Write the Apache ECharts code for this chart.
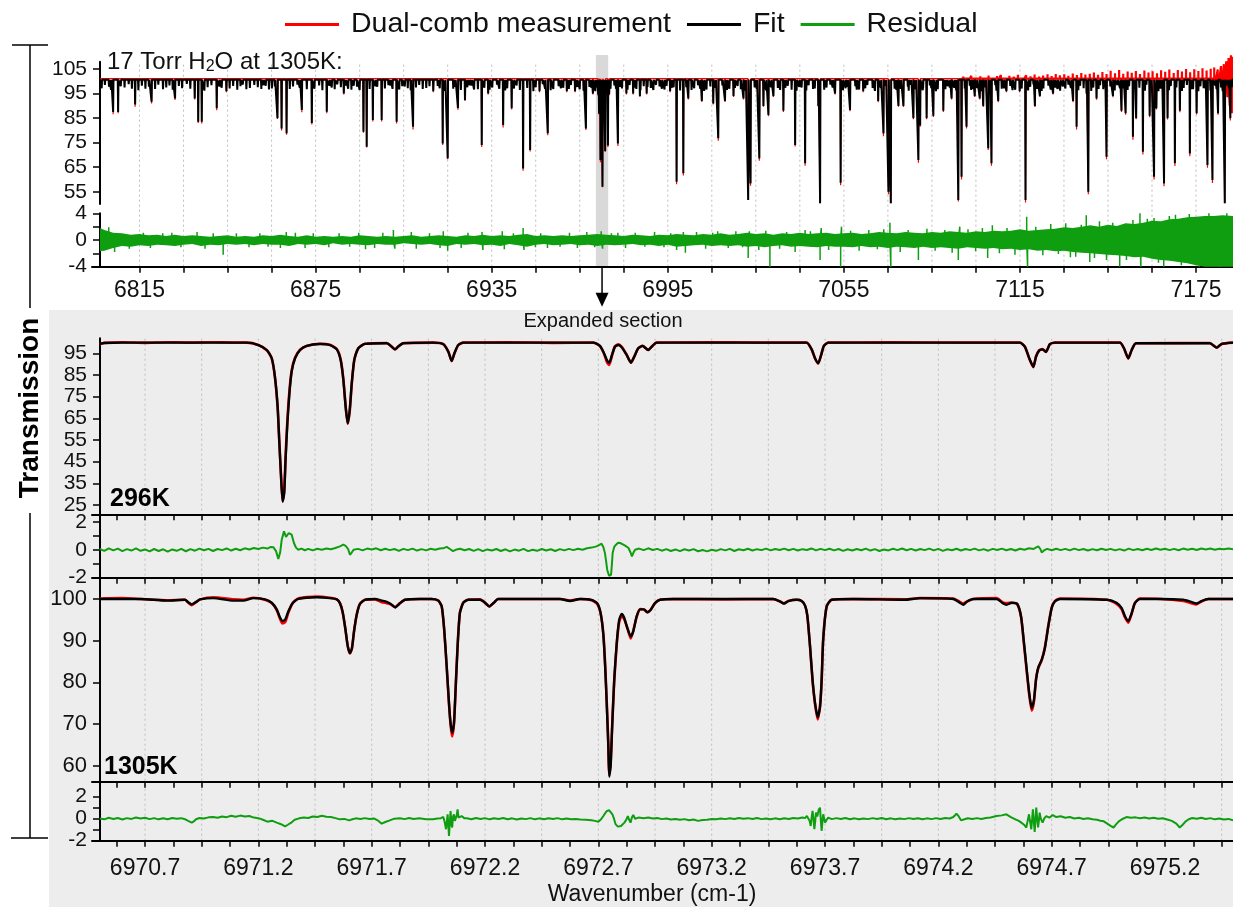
<!DOCTYPE html>
<html>
<head>
<meta charset="utf-8">
<script src="https://cdn.jsdelivr.net/npm/echarts@6/dist/echarts.min.js"></script>
<style>
html,body{margin:0;padding:0;background:#ffffff;}
#chart{width:1233px;height:907px;}
</style>
</head>
<body>
<div id="chart"></div>
<script>
// ---------- Overview (6801.5 - 7187.6 cm-1), 17 Torr H2O at 1305 K ----------
// strong absorption lines: [wavenumber, fit minimum %, measured minimum %]
const overviewLines = [
[6806.0,87.5,86.6],[6807.7,87.5,87.0],[6813.5,90.6,89.6],[6819.1,91.7,91.0],[6827.1,93.0,92.4],[6833.8,93.0,92.6],
[6835.0,83.5,83.0],[6836.2,83.5,82.8],[6841.3,89.0,88.2],[6844.6,96.0,95.6],[6862.0,85.0,84.6],[6863.4,80.8,80.0],
[6865.1,78.8,78.2],[6870.3,88.3,87.4],[6873.7,83.0,82.4],[6878.8,87.6,87.0],[6884.6,95.0,94.6],[6891.3,79.5,79.0],
[6892.4,73.3,73.0],[6894.5,84.2,83.6],[6897.5,84.2,83.6],[6902.6,83.5,82.8],[6908.2,81.5,80.4],[6915.1,96.0,95.6],
[6918.3,74.7,74.0],[6920.0,68.6,68.2],[6923.5,89.1,88.4],[6925.9,92.4,92.0],[6931.6,74.0,73.2],[6933.8,95.0,94.6],
[6938.9,82.2,81.2],[6941.8,89.0,88.5],[6945.7,64.5,63.6],[6948.1,72.0,71.4],[6951.3,96.0,95.6],[6954.1,78.8,78.0],
[6960.6,96.0,95.6],[6963.4,96.0,95.6],[6967.1,80.8,80.2],[6969.5,95.0,94.6],
[6971.3,94.6,94.1],[6971.6,86.8,86.5],[6972.05,67.9,67.0],[6972.75,57.0,56.8],[6972.85,91.0,90.5],[6973.67,71.6,71.2],
[6974.61,73.8,73.2],[6975.04,94.7,94.3],
[6978.0,74.7,73.6],[6980.9,95.0,94.6],[6983.2,95.0,94.6],[6985.5,94.0,93.6],[6987.8,95.0,94.6],[6995.8,96.0,95.6],
[6998.0,59.1,58.0],[7000.3,62.5,61.6],[7002.0,93.0,92.6],[7006.6,92.0,91.6],[7010.5,91.0,90.6],[7012.2,76.8,75.8],
[7014.5,92.0,91.6],[7017.4,94.0,93.6],[7020.8,93.0,92.6],[7022.4,51.6,51.6],[7023.2,58.4,57.4],[7026.2,68.6,67.6],
[7027.6,90.0,89.6],[7029.3,86.3,85.8],[7031.0,94.0,93.6],[7034.4,88.0,87.5],[7038.4,74.0,73.4],[7041.8,66.6,65.6],
[7046.3,90.0,89.6],[7046.9,50.3,50.3],[7052.0,95.0,94.6],[7053.9,58.7,57.6],[7057.1,88.3,87.8],[7061.6,96.0,95.6],
[7066.7,92.0,91.5],[7068.5,78.8,77.6],[7070.2,55.0,54.0],[7071.0,50.3,50.3],[7073.6,90.0,89.6],[7075.3,90.0,89.5],
[7078.7,85.0,84.5],[7080.4,67.9,66.8],[7081.0,82.0,81.5],[7083.2,85.0,84.5],[7085.5,86.0,85.5],[7088.9,88.0,87.5],
[7091.7,93.0,92.6],[7094.0,51.6,51.0],[7095.1,61.1,60.0],[7096.8,81.5,80.8],[7099.6,94.0,93.6],[7101.3,93.0,92.6],
[7102.5,90.0,89.5],[7104.2,72.7,72.0],[7105.3,66.6,65.6],[7107.6,92.0,91.5],[7110.4,96.0,95.6],[7114.9,96.0,95.6],
[7116.9,51.6,50.6],[7120.1,90.0,89.5],[7121.8,94.0,93.6],[7126.3,95.0,94.6],[7133.1,92.0,91.5],[7134.3,81.5,80.4],
[7137.7,95.0,94.5],[7138.3,55.0,54.0],[7141.1,93.0,92.5],[7144.5,69.3,68.2],[7146.7,94.0,93.5],[7149.6,88.0,87.5],
[7151.0,87.0,86.4],[7153.5,77.4,76.2],[7154.6,85.0,84.5],[7156.9,71.3,70.2],[7159.2,86.0,85.4],[7160.7,61.1,60.0],
[7161.5,89.0,88.5],[7164.1,58.4,57.2],[7165.3,85.0,84.4],[7167.8,66.6,65.5],[7169.5,88.0,87.4],[7172.9,70.6,69.5],
[7175.2,87.0,86.5],[7178.9,65.9,64.8],[7180.6,59.8,58.6],[7182.5,87.0,86.4],[7184.8,50.3,50.3],[7186.7,85.0,84.0]
];
// weak lines forming the dense band just below the baseline: [wavenumber, fit minimum %]
const overviewWeakLines = [
[6802.1,97.2],[6803.2,98.5],[6804.6,97.8],[6805.3,96.5],[6808.6,98.0],[6809.9,97.5],[6811.3,98.8],[6812.4,97.0],
[6814.6,96.4],[6815.8,98.2],[6817.0,97.0],[6818.2,97.8],[6820.3,96.9],[6821.4,98.6],[6823.0,96.8],[6824.1,97.5],
[6825.2,98.3],[6826.3,96.6],[6828.4,98.1],[6829.5,97.2],[6831.1,98.9],[6832.3,97.0],[6837.1,96.2],[6838.2,97.6],
[6839.5,98.4],[6842.2,97.9],[6843.0,97.4],[6845.7,97.1],[6846.9,98.1],[6848.3,96.6],[6849.4,98.0],[6850.2,98.7],
[6851.4,96.8],[6852.6,97.3],[6854.1,98.5],[6855.3,97.6],[6856.5,96.9],[6857.2,98.4],[6858.0,98.2],[6859.1,96.7],
[6860.1,97.1],[6861.1,97.9],[6866.2,96.9],[6867.3,97.9],[6868.8,98.6],[6869.6,97.4],[6872.0,96.8],[6874.6,97.0],
[6876.2,98.3],[6877.3,96.4],[6879.7,98.2],[6880.5,97.5],[6881.5,96.8],[6882.4,98.8],[6883.6,97.6],[6885.3,98.3],
[6886.1,97.0],[6887.2,96.6],[6888.0,98.2],[6889.1,97.8],[6890.0,96.5],[6893.4,96.9],[6895.4,98.0],[6896.0,97.8],
[6898.6,97.1],[6899.8,98.4],[6900.5,98.3],[6901.2,96.9],[6903.5,96.7],[6904.5,98.0],[6905.4,97.9],[6906.4,97.2],
[6907.4,96.4],[6909.2,97.5],[6910.3,98.5],[6911.5,96.9],[6912.7,97.3],[6913.8,98.0],[6916.6,98.1],[6917.3,97.2],
[6919.1,96.1],[6921.9,97.0],[6922.6,97.8],[6924.5,96.5],[6926.7,97.6],[6927.5,98.4],[6928.2,98.3],[6929.0,96.7],
[6930.3,96.8],[6932.5,97.4],[6934.3,96.6],[6935.2,97.5],[6936.8,98.6],[6937.6,97.0],[6939.6,96.3],[6940.3,97.2],
[6942.6,97.1],[6943.5,98.3],[6944.6,96.5],[6947.1,97.3],[6949.2,96.0],[6950.0,97.6],[6952.4,98.8],[6953.2,97.0],
[6955.1,96.4],[6956.0,96.9],[6957.8,98.0],[6958.6,97.2],[6959.4,97.4],[6961.3,96.9],[6962.0,98.5],[6964.1,97.7],
[6965.0,96.8],[6966.3,96.2],[6968.3,97.7],[6969.0,97.4],[6970.3,96.0],[6970.9,97.5],[6971.9,95.8],[6972.4,96.5],
[6973.2,95.9],[6973.9,96.8],[6974.3,95.5],[6975.1,96.6],[6975.5,97.0],[6976.8,98.3],[6977.4,96.9],[6978.8,97.8],
[6979.4,97.1],[6981.3,96.6],[6982.0,98.5],[6983.8,97.5],[6984.3,96.9],[6985.7,96.4],[6986.8,98.0],[6988.1,97.7],
[6989.2,97.3],[6990.1,96.5],[6991.0,98.6],[6992.2,97.9],[6993.0,97.0],[6993.9,96.7],[6994.6,98.2],[6996.4,97.4],
[6997.0,97.6],[6999.2,96.3],[7001.3,97.6],[7003.1,96.5],[7004.0,97.2],[7005.3,98.4],[7006.1,97.0],[7007.4,96.1],
[7008.2,96.7],[7009.5,97.9],[7011.3,97.4],[7013.6,98.3],[7015.2,96.5],[7016.0,97.0],[7017.9,97.3],[7018.8,98.1],
[7019.9,96.8],[7021.5,96.2],[7024.6,97.5],[7025.3,97.0],[7028.5,96.4],[7030.2,97.6],[7032.5,97.3],[7033.3,96.5],
[7035.1,97.4],[7035.9,98.2],[7037.2,96.6],[7038.9,96.2],[7039.8,97.7],[7040.6,97.5],[7042.2,96.3],[7043.0,98.4],
[7044.5,96.9],[7045.1,97.1],[7048.3,96.6],[7049.1,97.5],[7050.4,98.6],[7051.2,97.5],[7054.7,96.4],[7055.6,97.2],
[7056.3,97.8],[7058.9,98.0],[7059.4,96.6],[7060.2,96.7],[7062.3,97.2],[7063.0,98.5],[7064.8,97.3],[7065.6,96.1],
[7067.6,97.3],[7069.3,98.2],[7072.3,97.0],[7072.9,96.5],[7074.4,97.0],[7076.8,97.8],[7077.1,96.2],[7077.9,98.7],
[7079.5,96.9],[7081.9,96.4],[7082.0,97.2],[7084.3,98.3],[7084.8,97.2],[7086.4,96.0],[7087.0,96.8],[7089.6,96.8],
[7090.2,98.0],[7091.1,97.5],[7092.6,97.4],[7093.3,96.3],[7096.2,97.1],[7097.9,98.2],[7098.4,96.5],[7099.0,96.9],
[7100.4,97.3],[7102.0,96.0],[7103.3,97.6],[7104.8,96.8],[7106.6,98.4],[7107.0,96.2],[7108.8,97.0],[7109.6,97.2],
[7111.7,98.1],[7112.5,96.4],[7113.4,96.6],[7115.6,97.1],[7117.8,96.3],[7118.5,97.8],[7119.6,98.7],[7120.9,97.0],
[7122.4,96.1],[7123.0,97.1],[7124.7,98.2],[7125.5,96.7],[7127.0,97.5],[7127.8,96.9],[7128.7,96.2],[7129.6,97.9],
[7130.5,97.1],[7131.5,98.6],[7132.4,97.3],[7134.9,96.4],[7135.5,98.2],[7136.7,97.2],[7139.3,96.1],[7140.0,97.5],
[7141.8,96.9],[7142.3,98.4],[7143.4,96.8],[7144.0,97.6],[7145.8,97.9],[7147.3,96.3],[7148.2,98.5],[7149.1,97.2],
[7150.3,97.2],[7151.7,96.5],[7152.2,98.0],[7154.1,97.0],[7155.7,97.4],[7157.6,96.2],[7158.1,98.6],[7159.8,97.4],
[7162.2,96.0],[7162.7,97.0],[7163.4,97.1],[7165.8,96.4],[7166.4,98.1],[7168.3,97.5],[7170.2,96.1],[7170.8,97.3],
[7171.9,98.5],[7173.4,96.8],[7174.0,96.8],[7175.8,96.0],[7176.5,98.0],[7177.6,97.2],[7178.2,97.1],[7179.9,96.3],
[7181.5,98.3],[7182.0,96.8],[7183.5,97.5],[7184.1,96.0],[7185.7,98.4],[7186.2,97.2],[7187.2,97.6]
];
const overviewRange = [6801.5, 7187.6];
const overviewFitBaseline = 100.6;
const overviewMeasBaseline = 101.1;
// noisy measured baseline at the high-wavenumber end: [wavenumber, %]
const overviewMeasTail = [
[7095.0,101.3],[7095.7,102.0],[7096.5,101.0],[7097.1,101.6],[7097.9,101.2],[7098.4,102.3],[7099.2,101.4],[7100.0,101.8],
[7100.6,100.9],[7101.5,102.1],[7102.1,101.5],[7102.8,101.9],[7103.6,101.1],[7104.3,102.4],[7105.0,101.3],[7105.8,101.7],
[7106.4,101.0],[7107.2,102.2],[7107.9,101.6],[7108.5,102.6],[7109.3,101.2],[7110.0,101.9],[7110.7,101.4],[7111.4,102.3],
[7112.2,101.0],[7112.9,102.0],[7113.5,101.5],[7114.3,102.7],[7115.0,101.3],[7115.8,101.8],[7116.5,101.1],[7117.1,102.5],
[7117.9,101.6],[7118.6,102.1],[7119.3,101.2],[7120.0,102.8],[7120.8,101.4],[7121.5,102.0],[7122.2,101.1],[7122.9,102.4],
[7123.7,101.7],[7124.4,102.9],[7125.0,101.3],[7125.8,102.2],[7126.5,101.5],[7127.2,103.0],[7127.9,101.2],[7128.6,102.5],
[7129.4,101.8],[7130.1,102.9],[7130.8,101.3],[7131.5,102.3],[7132.3,101.6],[7133.0,103.2],[7133.7,101.4],[7134.4,102.6],
[7135.2,101.9],[7135.9,103.4],[7136.6,101.2],[7137.3,102.8],[7138.0,101.5],[7138.8,103.1],[7139.5,101.8],[7140.2,103.6],
[7140.9,101.3],[7141.6,102.7],[7142.3,101.6],[7143.1,103.8],[7143.8,101.4],[7144.5,103.0],[7145.2,101.7],[7145.9,104.3],
[7146.6,101.2],[7147.4,103.3],[7148.1,101.9],[7148.8,104.6],[7149.5,101.5],[7150.2,103.1],[7150.9,101.3],[7151.7,104.0],
[7152.4,101.8],[7153.1,103.5],[7153.8,101.1],[7154.5,104.2],[7155.2,101.6],[7155.9,103.0],[7156.7,101.3],[7157.4,104.4],
[7158.1,101.9],[7158.8,103.6],[7159.5,101.2],[7160.2,104.1],[7160.9,101.5],[7161.7,103.3],[7162.4,101.0],[7163.1,104.5],
[7163.8,101.7],[7164.5,103.9],[7165.2,101.3],[7165.9,104.8],[7166.6,101.6],[7167.4,103.4],[7168.1,100.9],[7168.8,104.6],
[7169.5,101.8],[7170.2,104.0],[7170.9,101.2],[7171.6,105.0],[7172.3,101.5],[7173.0,103.7],[7173.7,100.8],[7174.4,104.9],
[7175.1,101.4],[7175.8,104.2],[7176.5,101.0],[7177.2,105.3],[7177.9,101.7],[7178.6,104.4],[7179.3,100.6],[7180.0,105.1],
[7180.6,101.2],[7181.2,105.6],[7181.8,100.2],[7182.4,104.8],[7183.0,99.6],[7183.5,106.2],[7184.0,98.4],[7184.5,107.0],
[7184.9,96.0],[7185.3,108.2],[7185.7,93.5],[7186.1,109.5],[7186.5,90.0],[7186.9,110.6],[7187.2,87.0],[7187.6,110.0]
];
// residual envelope: [wavenumber, upper %, lower %]
const overviewResidualEnvelope = [
[6801.5,1.8,-1.7],[6803,1.5,-1.6],[6806,1.1,-1.2],[6809,1.0,-0.9],[6812,0.8,-1.0],[6815,0.9,-0.8],[6818,0.7,-0.9],
[6821,0.8,-0.7],[6824,0.6,-0.8],[6827,0.8,-0.9],[6830,0.6,-0.7],[6833,0.7,-0.6],[6836,0.6,-0.9],[6839,0.5,-0.7],
[6842,0.6,-0.8],[6845,0.7,-0.6],[6848,0.5,-0.7],[6851,0.6,-0.6],[6854,0.5,-0.8],[6857,0.7,-0.6],[6860,0.6,-0.7],
[6863,0.8,-0.7],[6866,0.6,-0.9],[6869,0.5,-0.6],[6872,0.7,-0.7],[6875,0.5,-0.6],[6878,0.6,-0.8],[6881,0.5,-0.5],
[6884,0.6,-0.7],[6887,0.5,-0.6],[6890,0.7,-0.7],[6893,0.6,-0.8],[6896,0.5,-0.6],[6899,0.6,-0.7],[6902,0.5,-0.7],
[6905,0.6,-0.5],[6908,0.7,-0.6],[6911,0.5,-0.7],[6914,0.6,-0.6],[6917,0.7,-0.8],[6920,0.6,-0.9],[6923,0.5,-0.6],
[6926,0.7,-0.7],[6929,0.6,-0.6],[6932,0.8,-0.8],[6935,0.6,-0.7],[6938,0.7,-0.9],[6941,0.6,-0.6],[6944,0.8,-0.8],
[6947,0.9,-1.0],[6950,0.6,-0.7],[6953,0.7,-0.6],[6956,0.6,-0.8],[6959,0.7,-0.7],[6962,0.6,-0.6],[6965,0.7,-0.8],
[6968,0.8,-0.7],[6971,0.9,-0.9],[6974,0.8,-0.7],[6977,0.7,-0.8],[6980,0.6,-0.7],[6983,0.8,-0.6],[6986,0.7,-0.8],
[6989,0.6,-0.7],[6992,0.8,-0.9],[6995,0.7,-0.7],[6998,0.9,-1.0],[7001,0.8,-0.9],[7004,0.7,-0.8],[7007,0.9,-0.7],
[7010,0.8,-0.9],[7013,1.0,-0.8],[7016,0.8,-0.9],[7019,0.9,-0.8],[7022,1.1,-1.0],[7025,0.9,-0.9],[7028,1.0,-1.1],
[7031,0.8,-0.9],[7034,1.0,-0.8],[7037,0.9,-1.0],[7040,1.1,-0.9],[7043,0.9,-1.0],[7046,1.0,-1.1],[7049,1.1,-0.9],
[7052,0.9,-1.0],[7055,1.0,-1.0],[7058,1.1,-1.1],[7061,0.9,-0.9],[7064,1.0,-1.1],[7067,1.2,-1.0],[7070,1.1,-1.2],
[7073,1.0,-1.0],[7076,1.2,-1.1],[7079,1.1,-1.2],[7082,1.0,-1.0],[7085,1.2,-1.2],[7088,1.1,-1.1],[7091,1.3,-1.2],
[7094,1.2,-1.3],[7097,1.1,-1.1],[7100,1.3,-1.2],[7103,1.2,-1.3],[7106,1.4,-1.2],[7109,1.3,-1.4],[7112,1.4,-1.3],
[7115,1.6,-1.5],[7118,1.4,-1.4],[7121,1.5,-1.6],[7124,1.6,-1.5],[7127,1.7,-1.7],[7130,1.9,-1.6],[7133,1.8,-1.8],
[7136,2.0,-1.9],[7139,2.2,-2.0],[7142,2.0,-2.1],[7145,2.3,-2.2],[7148,2.1,-2.3],[7151,2.5,-2.4],[7154,2.4,-2.6],
[7157,2.6,-2.5],[7160,2.9,-2.8],[7163,2.8,-3.0],[7166,3.1,-3.1],[7169,3.2,-3.3],[7172,3.4,-3.5],[7175,3.5,-3.8],
[7178,3.6,-4.0],[7181,3.6,-4.0],[7184,3.7,-4.0],[7187.6,3.6,-4.0]
];
// isolated residual excursions: [wavenumber, %]
const overviewResidualSpikes = [
[6804.5,1.9],[6806.5,-1.8],[6811.5,-1.3],[6816.3,1.1],[6818.7,-1.2],[6822.9,1.0],[6826,1.1],[6829.1,-1.1],[6834.6,1.2],
[6837.3,-1.3],[6840.1,1.0],[6843.5,-2.2],[6848,1.0],[6852.3,-1.1],[6856.0,1.0],[6858.8,-1.0],[6863,-1.2],[6865,1.2],
[6868.1,1.1],[6871.4,-1.2],[6874.2,1.0],[6879.5,-1.1],[6883.0,1.0],[6886.6,-1.0],[6889.7,1.1],[6892,-1.4],[6895.1,-1.2],
[6897.9,1.1],[6901.5,1.5],[6902,-1.3],[6907.6,1.2],[6909.3,-1.3],[6913.8,1.0],[6917.4,-1.2],[6918.5,1.3],[6920,-1.6],
[6924.6,-1.2],[6926.9,1.1],[6931.7,1.2],[6932,-1.5],[6938.6,1.3],[6939.3,-1.4],[6942.4,1.0],[6945.7,1.8],[6946,-1.5],
[6949.9,-1.1],[6951.7,1.0],[6954,-1.2],[6958.3,-1.0],[6961.5,1.1],[6964.2,-1.2],[6967.4,1.2],[6970.1,-1.1],[6972.3,1.3],
[6972.8,-1.3],[6975.8,1.0],[6978,1.1],[6980.6,-1.2],[6983.9,1.1],[6987.2,-1.0],[6990.5,1.2],[6993.7,-1.1],[6996.0,1.0],
[6998,-1.5],[7000.3,1.2],[7001,-1.9],[7004.8,1.2],[7007.9,-1.3],[7010.3,1.1],[7012,1.3],[7015.6,-1.2],[7018.2,1.3],
[7020.5,-1.1],[7022.4,-2.7],[7022.8,1.3],[7026,-1.5],[7028.4,1.4],[7029.8,-4.0],[7033.1,-1.3],[7035.5,1.2],[7038.4,-1.8],
[7041.8,1.5],[7043.6,1.3],[7046.9,-3.0],[7047.3,1.8],[7049.8,-1.5],[7053.9,-4.0],[7054.2,2.0],[7057.3,1.4],[7060.2,-1.6],
[7063.5,1.5],[7066.4,-1.4],[7068.6,1.6],[7070.7,2.6],[7071,-4.0],[7074.2,-1.8],[7076.9,1.5],[7080.4,-3.0],[7083.3,1.7],
[7086.1,-1.6],[7089.4,1.5],[7091.9,-1.9],[7094,-3.0],[7094.5,2.0],[7097.3,1.6],[7099.9,-1.7],[7102.2,1.8],[7104,-2.7],
[7105.6,2.2],[7108.0,-2.0],[7110.6,1.8],[7113.3,-2.2],[7117.3,3.5],[7117.6,-4.0],[7120.4,2.0],[7122.8,-2.3],[7125.5,2.4],
[7128.1,-2.1],[7130.6,2.5],[7132.2,-2.6],[7134,-2.5],[7135.9,2.3],[7137.6,3.7],[7138.8,-3.3],[7140.4,-2.7],[7142.1,2.8],
[7144.5,-3.0],[7146.6,2.6],[7149,-4.0],[7151.3,-3.0],[7153.5,3.0],[7155.9,4.0],[7156.2,-4.0],[7158.4,3.2],[7160.7,3.3],
[7162.2,-3.4],[7164,-4.0],[7165.9,3.6],[7168,3.8],[7170.0,-3.8],[7172.7,3.9],[7176.1,-4.0],[7179.4,4.0],[7183.1,-4.0],
[7185.5,4.0]
];
const expandedSection = [6970.5, 6974.7];

// ---------- Expanded section (6970.47 - 6975.5 cm-1) ----------
// 296 K: [wavenumber, fit %, measured %]
const spec296 = [
[6970.500,99.3,99.2],[6970.520,99.7,99.8],[6970.600,99.9,100.1],[6970.700,99.9,99.8],[6970.800,99.9,100.1],
[6970.900,99.9,99.9],[6971.000,99.9,100.1],[6971.100,99.9,99.9],[6971.148,99.9,99.9],[6971.200,98.8,98.8],
[6971.237,96.5,96.4],[6971.259,92.7,92.6],[6971.273,84.2,84.0],[6971.285,70.4,70.0],[6971.292,55.0,55.0],
[6971.300,38.1,38.5],[6971.307,26.5,26.8],[6971.314,30.4,31.5],[6971.320,45.8,47.5],[6971.328,62.7,64.0],
[6971.337,76.5,77.5],[6971.347,86.5,87.2],[6971.362,92.7,93.0],[6971.384,96.5,96.6],[6971.413,98.4,98.4],
[6971.472,99.3,99.4],[6971.516,98.8,98.9],[6971.546,96.8,97.0],[6971.563,91.9,92.2],[6971.575,82.7,83.0],
[6971.585,70.4,70.5],[6971.594,62.7,62.5],[6971.603,68.8,68.2],[6971.612,81.2,80.8],[6971.623,91.9,91.7],
[6971.641,97.3,97.3],[6971.670,99.3,99.4],[6971.766,99.6,99.7],[6971.788,98.1,98.0],[6971.803,96.8,96.7],
[6971.817,98.1,98.1],[6971.839,99.6,99.6],[6971.972,99.9,99.9],[6972.016,99.2,99.2],[6972.038,95.7,95.8],
[6972.053,91.4,91.4],[6972.065,95.0,95.0],[6972.082,98.8,98.8],[6972.104,99.9,99.9],[6972.300,99.9,100.1],
[6972.500,99.9,99.8],[6972.678,99.9,99.9],[6972.707,98.4,98.3],[6972.725,95.0,94.8],[6972.739,91.6,90.6],
[6972.748,90.7,89.6],[6972.760,94.2,93.8],[6972.773,98.0,98.2],[6972.788,98.8,99.1],[6972.803,97.8,98.0],
[6972.825,94.2,94.3],[6972.844,90.7,90.6],[6972.858,93.4,93.3],[6972.876,97.3,97.3],[6972.895,98.4,98.4],
[6972.920,96.5,96.5],[6972.935,98.0,98.0],[6972.957,99.9,99.9],[6973.200,99.9,100.1],[6973.400,99.9,99.9],
[6973.619,99.9,99.9],[6973.641,96.8,96.8],[6973.656,92.7,92.6],[6973.670,90.4,90.3],[6973.685,95.0,95.0],
[6973.695,98.4,98.4],[6973.714,99.9,99.9],[6974.000,99.9,100.0],[6974.300,99.9,99.9],[6974.560,99.9,99.9],
[6974.582,98.0,98.0],[6974.601,92.7,92.6],[6974.619,88.8,88.6],[6974.631,93.4,93.6],[6974.645,96.2,96.4],
[6974.660,96.8,96.9],[6974.675,95.7,95.6],[6974.692,99.2,99.2],[6974.714,99.9,99.9],[6975.001,99.9,99.9],
[6975.019,97.3,97.3],[6975.038,92.7,92.6],[6975.053,96.5,96.5],[6975.072,99.6,99.6],[6975.398,99.6,99.7],
[6975.428,97.6,97.6],[6975.450,99.3,99.3],[6975.500,99.9,99.9]
];
// 296 K residual: [wavenumber, %]
const res296 = [
[6970.500,0.05],[6970.520,-0.08],[6970.540,0.10],[6970.560,-0.05],[6970.580,0.08],[6970.600,-0.10],[6970.620,0.04],
[6970.640,-0.06],[6970.660,0.09],[6970.680,-0.08],[6970.700,0.02],[6970.720,-0.12],[6970.740,0.05],[6970.760,-0.09],
[6970.780,0.03],[6970.800,-0.14],[6970.820,0.02],[6970.840,-0.08],[6970.860,0.06],[6970.880,-0.11],[6970.900,0.04],
[6970.920,-0.07],[6970.940,0.08],[6970.960,-0.04],[6970.980,0.06],[6971.000,-0.09],[6971.020,0.05],[6971.040,-0.03],
[6971.060,0.09],[6971.080,-0.06],[6971.100,0.07],[6971.120,-0.04],[6971.140,0.10],[6971.160,0.02],[6971.180,0.12],
[6971.200,0.05],[6971.220,0.15],[6971.240,0.08],[6971.255,0.20],[6971.266,0.18],[6971.278,-0.10],[6971.288,-0.66],
[6971.296,-0.20],[6971.303,0.71],[6971.313,1.31],[6971.318,1.10],[6971.322,0.91],[6971.328,1.05],[6971.334,1.19],
[6971.340,1.25],[6971.347,1.07],[6971.357,0.48],[6971.366,0.15],[6971.376,0.00],[6971.390,0.08],[6971.405,-0.04],
[6971.420,0.06],[6971.440,-0.05],[6971.460,0.07],[6971.480,0.00],[6971.500,0.09],[6971.520,0.03],[6971.540,0.12],
[6971.560,0.24],[6971.575,0.36],[6971.585,0.28],[6971.596,0.05],[6971.604,-0.36],[6971.612,-0.20],[6971.620,0.00],
[6971.640,0.06],[6971.660,-0.05],[6971.680,0.08],[6971.700,0.02],[6971.720,0.10],[6971.740,-0.04],[6971.760,0.07],
[6971.780,-0.03],[6971.800,0.05],[6971.820,-0.08],[6971.840,0.06],[6971.860,-0.03],[6971.880,0.08],[6971.900,-0.06],
[6971.920,0.04],[6971.940,-0.05],[6971.960,0.07],[6971.980,0.00],[6972.000,0.08],[6972.015,0.10],[6972.031,0.20],
[6972.045,0.05],[6972.059,-0.10],[6972.075,0.02],[6972.090,0.07],[6972.110,-0.04],[6972.130,0.05],[6972.150,-0.08],
[6972.170,0.04],[6972.190,-0.10],[6972.210,0.02],[6972.230,-0.06],[6972.250,0.05],[6972.270,-0.09],[6972.290,0.03],
[6972.310,-0.12],[6972.330,0.01],[6972.350,-0.07],[6972.370,0.06],[6972.390,-0.10],[6972.410,0.00],[6972.430,-0.08],
[6972.450,0.05],[6972.470,-0.06],[6972.490,0.03],[6972.510,-0.09],[6972.530,0.04],[6972.550,-0.05],[6972.570,0.06],
[6972.590,-0.03],[6972.610,0.07],[6972.630,0.00],[6972.650,0.10],[6972.670,0.15],[6972.692,0.24],[6972.705,0.35],
[6972.714,0.43],[6972.722,0.20],[6972.729,-0.24],[6972.734,-0.80],[6972.739,-1.43],[6972.747,-1.86],[6972.756,-1.79],
[6972.760,-1.00],[6972.763,-0.24],[6972.770,0.20],[6972.778,0.36],[6972.787,0.50],[6972.796,0.48],[6972.806,0.40],
[6972.818,0.29],[6972.833,0.12],[6972.842,-0.20],[6972.848,-0.48],[6972.855,-0.20],[6972.862,0.00],[6972.880,0.08],
[6972.900,-0.03],[6972.920,0.10],[6972.940,-0.02],[6972.960,0.06],[6972.980,-0.07],[6973.000,0.04],[6973.020,-0.09],
[6973.040,0.02],[6973.060,-0.10],[6973.080,0.03],[6973.100,-0.06],[6973.120,0.04],[6973.140,-0.11],[6973.160,-0.02],
[6973.180,-0.12],[6973.200,0.00],[6973.220,-0.08],[6973.240,0.04],[6973.260,-0.05],[6973.280,0.06],[6973.300,-0.09],
[6973.320,0.03],[6973.340,-0.04],[6973.360,0.07],[6973.380,-0.06],[6973.400,0.04],[6973.420,-0.03],[6973.440,0.08],
[6973.460,-0.05],[6973.480,0.05],[6973.500,-0.02],[6973.520,0.08],[6973.540,-0.04],[6973.560,0.06],[6973.580,-0.06],
[6973.600,0.04],[6973.620,-0.02],[6973.640,0.09],[6973.660,-0.05],[6973.680,0.06],[6973.700,-0.03],[6973.720,0.07],
[6973.740,-0.05],[6973.760,0.05],[6973.780,-0.08],[6973.800,0.03],[6973.820,-0.06],[6973.840,0.05],[6973.860,-0.04],
[6973.880,0.08],[6973.900,-0.06],[6973.920,0.04],[6973.940,-0.09],[6973.960,0.02],[6973.980,-0.05],[6974.000,0.07],
[6974.020,-0.03],[6974.040,0.09],[6974.060,-0.04],[6974.080,0.06],[6974.100,-0.06],[6974.120,0.05],[6974.140,-0.03],
[6974.160,0.08],[6974.180,-0.05],[6974.200,0.06],[6974.220,-0.08],[6974.240,0.03],[6974.260,-0.04],[6974.280,0.07],
[6974.300,-0.06],[6974.320,0.05],[6974.340,-0.03],[6974.360,0.08],[6974.380,-0.05],[6974.400,0.04],[6974.420,-0.07],
[6974.440,0.06],[6974.460,-0.02],[6974.480,0.08],[6974.500,-0.04],[6974.520,0.05],[6974.540,-0.06],[6974.560,0.07],
[6974.580,0.00],[6974.600,0.10],[6974.620,0.05],[6974.630,0.15],[6974.641,0.24],[6974.650,0.05],[6974.656,-0.20],
[6974.666,-0.05],[6974.680,0.06],[6974.700,-0.04],[6974.720,0.07],[6974.740,-0.03],[6974.760,0.06],[6974.780,-0.05],
[6974.800,0.08],[6974.820,-0.03],[6974.840,0.05],[6974.860,-0.06],[6974.880,0.04],[6974.900,-0.04],[6974.920,0.07],
[6974.940,-0.02],[6974.960,0.06],[6974.980,-0.05],[6975.000,0.04],[6975.020,-0.06],[6975.040,0.08],[6975.060,-0.03],
[6975.080,0.05],[6975.100,-0.04],[6975.120,0.07],[6975.140,-0.02],[6975.160,0.09],[6975.180,0.00],[6975.200,0.07],
[6975.220,-0.03],[6975.240,0.06],[6975.260,-0.04],[6975.280,0.08],[6975.300,0.00],[6975.320,0.07],[6975.340,-0.02],
[6975.360,0.09],[6975.380,0.02],[6975.400,0.08],[6975.420,0.00],[6975.440,0.07],[6975.460,0.03],[6975.480,0.09],
[6975.500,0.04]
];
// 1305 K: [wavenumber, fit %, measured %]
const spec1305 = [
[6970.501,100.0,100.1],[6970.600,100.0,100.2],[6970.678,100.0,100.0],[6970.796,99.6,99.7],[6970.876,99.8,99.8],
[6970.891,99.2,99.1],[6970.906,98.7,98.5],[6970.925,99.3,99.2],[6970.943,99.9,99.9],[6971.001,100.2,100.4],
[6971.090,99.6,99.9],[6971.134,99.6,99.8],[6971.178,100.2,100.3],[6971.229,99.9,99.8],[6971.259,99.1,99.0],
[6971.281,97.5,97.3],[6971.295,95.6,95.3],[6971.307,94.7,94.1],[6971.319,95.1,94.5],[6971.332,97.0,96.7],
[6971.351,99.0,99.0],[6971.376,100.0,100.1],[6971.457,100.4,100.6],[6971.516,100.2,100.3],[6971.546,99.9,99.9],
[6971.560,99.0,99.0],[6971.572,96.8,96.8],[6971.584,92.8,92.7],[6971.594,88.8,88.7],[6971.604,87.0,86.9],
[6971.613,88.2,88.2],[6971.622,92.2,92.2],[6971.634,96.2,96.3],[6971.648,98.8,98.8],[6971.670,99.8,99.8],
[6971.715,100.0,99.9],[6971.744,99.6,99.2],[6971.766,99.3,99.0],[6971.784,98.8,98.7],[6971.803,98.0,98.0],
[6971.825,99.0,99.0],[6971.847,99.8,99.8],[6971.913,100.0,100.0],[6971.965,100.0,100.0],[6971.994,99.6,99.6],
[6972.009,98.2,98.2],[6972.020,92.6,92.5],[6972.031,83.8,83.5],[6972.041,75.0,74.8],[6972.048,70.2,69.8],
[6972.055,67.9,67.0],[6972.063,70.2,70.0],[6972.070,78.2,78.0],[6972.079,88.6,88.8],[6972.089,96.6,96.7],
[6972.104,99.1,99.1],[6972.126,99.8,99.8],[6972.178,99.8,99.9],[6972.200,99.1,99.1],[6972.219,98.2,98.2],
[6972.239,99.1,99.1],[6972.258,100.0,100.0],[6972.531,100.0,100.0],[6972.575,99.5,99.6],[6972.619,100.0,100.0],
[6972.670,99.8,99.7],[6972.695,99.0,98.8],[6972.710,96.6,96.5],[6972.722,91.4,91.6],[6972.730,83.8,84.2],
[6972.738,73.4,74.0],[6972.744,64.6,65.2],[6972.748,57.4,58.0],[6972.754,59.8,60.3],[6972.761,69.4,69.6],
[6972.770,80.6,80.3],[6972.781,89.4,89.0],[6972.792,95.0,94.5],[6972.803,96.4,95.8],[6972.813,95.6,95.3],
[6972.828,93.0,93.0],[6972.843,91.0,90.5],[6972.854,92.2,92.4],[6972.869,95.8,95.7],[6972.884,97.5,97.6],
[6972.901,97.5,97.5],[6972.916,96.8,96.8],[6972.931,97.4,97.4],[6972.950,99.0,99.0],[6972.972,99.8,99.8],
[6973.031,100.0,100.0],[6973.250,100.0,99.9],[6973.472,100.0,100.0],[6973.501,99.4,99.4],[6973.519,98.9,98.9],
[6973.538,99.5,99.5],[6973.575,99.8,99.8],[6973.597,99.5,99.5],[6973.612,98.4,98.4],[6973.622,96.0,96.0],
[6973.634,88.6,88.5],[6973.645,80.6,80.4],[6973.656,75.0,74.8],[6973.668,71.6,71.1],[6973.678,74.0,74.5],
[6973.685,80.6,80.0],[6973.692,90.2,90.4],[6973.707,98.2,98.1],[6973.729,99.8,99.8],[6973.825,100.0,100.0],
[6974.053,99.8,99.9],[6974.119,100.2,100.2],[6974.266,100.0,100.1],[6974.295,99.1,99.3],[6974.310,98.6,98.9],
[6974.327,99.4,99.4],[6974.354,100.0,100.0],[6974.457,100.0,100.2],[6974.484,99.0,99.2],[6974.501,98.6,99.0],
[6974.524,99.1,99.1],[6974.548,98.8,98.8],[6974.565,95.8,95.6],[6974.578,89.4,89.0],[6974.590,83.0,82.6],
[6974.601,77.4,77.0],[6974.612,73.8,73.2],[6974.622,75.8,75.5],[6974.631,80.6,80.9],[6974.641,83.6,83.4],
[6974.656,85.4,85.3],[6974.670,88.2,88.4],[6974.685,93.4,93.5],[6974.700,97.8,98.0],[6974.714,99.4,99.5],
[6974.737,100.0,100.1],[6974.943,99.8,99.8],[6974.986,99.1,98.8],[6975.009,97.8,97.5],[6975.023,95.9,95.6],
[6975.038,94.7,94.3],[6975.053,96.6,96.5],[6975.067,99.0,99.0],[6975.089,100.0,100.1],[6975.180,100.0,100.0],
[6975.280,99.8,99.5],[6975.309,99.4,99.1],[6975.339,98.9,98.7],[6975.361,99.5,99.4],[6975.390,100.0,100.0],
[6975.500,100.0,100.0]
];
// 1305 K residual: [wavenumber, %]
const res1305 = [
[6970.500,0.02],[6970.520,-0.06],[6970.540,0.08],[6970.560,-0.03],[6970.580,0.06],[6970.600,-0.08],[6970.620,0.05],
[6970.640,-0.02],[6970.660,0.10],[6970.680,0.02],[6970.700,0.08],[6970.720,-0.04],[6970.740,0.05],[6970.760,-0.06],
[6970.780,0.04],[6970.800,-0.05],[6970.820,0.06],[6970.840,0.00],[6970.860,0.05],[6970.876,-0.05],[6970.890,-0.20],
[6970.906,-0.36],[6970.915,-0.25],[6970.925,-0.05],[6970.940,0.06],[6970.960,0.02],[6970.980,0.12],[6971.000,0.15],
[6971.020,0.08],[6971.040,0.20],[6971.060,0.14],[6971.080,0.26],[6971.100,0.18],[6971.120,0.28],[6971.140,0.20],
[6971.160,0.24],[6971.180,0.10],[6971.200,0.05],[6971.220,-0.10],[6971.240,-0.27],[6971.260,-0.18],[6971.281,-0.36],
[6971.300,-0.50],[6971.318,-0.70],[6971.330,-0.55],[6971.345,-0.36],[6971.360,-0.10],[6971.380,0.03],[6971.400,0.10],
[6971.420,0.06],[6971.440,0.20],[6971.460,0.15],[6971.480,0.26],[6971.500,0.18],[6971.520,0.15],[6971.540,0.05],
[6971.560,-0.06],[6971.580,-0.02],[6971.600,-0.15],[6971.615,-0.05],[6971.630,0.03],[6971.650,-0.02],[6971.670,0.05],
[6971.690,-0.03],[6971.710,0.02],[6971.730,-0.20],[6971.744,-0.45],[6971.760,-0.30],[6971.780,-0.15],[6971.800,0.00],
[6971.825,0.03],[6971.845,-0.04],[6971.865,0.06],[6971.885,-0.03],[6971.910,0.03],[6971.940,-0.05],[6971.970,-0.06],
[6971.990,0.02],[6972.005,0.05],[6972.016,0.15],[6972.022,-0.30],[6972.028,-0.96],[6972.035,0.40],[6972.041,-1.57],
[6972.048,0.70],[6972.052,-0.50],[6972.055,-0.80],[6972.059,0.20],[6972.063,0.40],[6972.067,-0.20],[6972.070,-0.36],
[6972.075,0.30],[6972.079,0.85],[6972.083,0.10],[6972.087,-0.06],[6972.097,0.24],[6972.108,0.05],[6972.120,0.03],
[6972.140,-0.05],[6972.160,0.06],[6972.180,-0.03],[6972.200,0.05],[6972.220,-0.06],[6972.240,0.04],[6972.260,-0.02],
[6972.280,0.06],[6972.300,-0.05],[6972.320,0.03],[6972.340,-0.07],[6972.360,0.02],[6972.380,-0.04],[6972.400,0.05],
[6972.420,-0.06],[6972.440,0.03],[6972.460,-0.05],[6972.480,0.04],[6972.500,-0.03],[6972.520,0.05],[6972.540,-0.06],
[6972.560,0.02],[6972.580,-0.05],[6972.600,-0.02],[6972.620,-0.08],[6972.645,-0.10],[6972.670,-0.15],[6972.685,-0.20],
[6972.700,-0.27],[6972.712,-0.05],[6972.722,0.24],[6972.730,0.50],[6972.738,0.70],[6972.748,0.76],[6972.756,0.60],
[6972.762,0.40],[6972.769,0.00],[6972.776,-0.50],[6972.786,-0.72],[6972.800,-0.66],[6972.815,-0.36],[6972.823,-0.10],
[6972.830,0.24],[6972.836,-0.10],[6972.842,-0.36],[6972.848,0.10],[6972.854,0.33],[6972.862,0.00],[6972.870,-0.15],
[6972.877,0.10],[6972.884,0.15],[6972.900,0.05],[6972.920,0.10],[6972.940,0.02],[6972.960,0.06],[6972.980,-0.04],
[6973.000,0.02],[6973.020,-0.08],[6973.040,-0.02],[6973.060,-0.10],[6973.080,-0.04],[6973.100,-0.15],[6973.120,-0.08],
[6973.140,-0.20],[6973.160,-0.12],[6973.180,-0.10],[6973.200,-0.03],[6973.220,-0.06],[6973.240,0.02],[6973.260,-0.04],
[6973.280,0.04],[6973.300,-0.02],[6973.320,0.06],[6973.340,0.00],[6973.360,0.05],[6973.380,-0.03],[6973.400,0.06],
[6973.420,-0.04],[6973.440,0.02],[6973.460,-0.06],[6973.480,0.03],[6973.500,-0.05],[6973.520,0.04],[6973.540,-0.02],
[6973.560,0.07],[6973.580,0.02],[6973.600,0.10],[6973.612,0.05],[6973.620,0.25],[6973.626,0.40],[6973.632,-0.20],
[6973.637,-0.66],[6973.641,0.10],[6973.645,0.70],[6973.649,0.00],[6973.653,-0.96],[6973.657,-0.20],[6973.660,0.55],
[6973.666,0.20],[6973.672,0.80],[6973.678,1.00],[6973.682,-0.30],[6973.685,-1.10],[6973.689,-0.20],[6973.692,0.40],
[6973.696,0.05],[6973.700,-0.36],[6973.707,-0.10],[6973.714,0.09],[6973.730,-0.04],[6973.750,0.05],[6973.770,-0.03],
[6973.790,0.06],[6973.810,-0.05],[6973.830,0.03],[6973.850,-0.06],[6973.870,0.02],[6973.890,-0.04],[6973.910,0.05],
[6973.930,-0.02],[6973.950,0.06],[6973.970,-0.05],[6973.990,0.03],[6974.010,-0.06],[6974.030,0.02],[6974.050,-0.04],
[6974.070,0.05],[6974.090,-0.03],[6974.110,0.04],[6974.130,-0.06],[6974.150,0.03],[6974.170,-0.04],[6974.190,0.05],
[6974.210,-0.02],[6974.230,0.06],[6974.250,0.02],[6974.266,0.15],[6974.280,0.45],[6974.290,0.20],[6974.300,-0.15],
[6974.315,-0.05],[6974.330,0.04],[6974.350,-0.03],[6974.370,0.05],[6974.390,-0.02],[6974.410,0.06],[6974.430,0.10],
[6974.457,0.24],[6974.480,0.30],[6974.500,0.40],[6974.520,0.15],[6974.540,-0.06],[6974.555,-0.20],[6974.566,-0.36],
[6974.578,-0.55],[6974.588,-0.80],[6974.594,-0.20],[6974.600,0.40],[6974.605,-0.30],[6974.610,-0.96],[6974.614,0.00],
[6974.617,0.85],[6974.621,-0.20],[6974.625,-1.20],[6974.629,0.10],[6974.632,1.00],[6974.636,0.00],[6974.640,-0.80],
[6974.644,-0.10],[6974.647,0.55],[6974.652,0.00],[6974.660,-0.36],[6974.668,0.05],[6974.676,0.24],[6974.690,0.10],
[6974.705,0.33],[6974.720,0.15],[6974.740,0.22],[6974.760,0.08],[6974.780,0.15],[6974.800,0.02],[6974.820,0.08],
[6974.840,-0.03],[6974.860,0.04],[6974.880,-0.06],[6974.900,-0.10],[6974.915,-0.18],[6974.930,-0.24],[6974.945,-0.45],
[6974.960,-0.66],[6974.973,-0.80],[6974.985,-0.50],[6974.995,-0.27],[6975.010,-0.05],[6975.030,0.15],[6975.050,0.08],
[6975.070,0.12],[6975.090,0.04],[6975.110,0.10],[6975.130,0.02],[6975.150,0.08],[6975.170,0.00],[6975.190,0.04],
[6975.210,-0.08],[6975.230,-0.20],[6975.250,-0.45],[6975.265,-0.80],[6975.278,-0.55],[6975.290,-0.27],[6975.305,-0.05],
[6975.320,0.06],[6975.340,0.00],[6975.360,0.08],[6975.380,-0.03],[6975.400,0.05],[6975.420,-0.06],[6975.440,0.02],
[6975.460,-0.08],[6975.480,-0.02],[6975.500,-0.15]
];

// ---------- tick values and labels ----------
const overviewTicks = [6815,6830,6845,6860,6875,6890,6905,6920,6935,6950,6965,6980,6995,7010,7025,7040,7055,7070,7085,7100,7115,7130,7145,7160,7175];
const overviewTickLabels = [6815,6875,6935,6995,7055,7115,7175];
const expandedTicks = [6970.575,6970.7,6970.825,6970.95,6971.075,6971.2,6971.325,6971.45,6971.575,6971.7,6971.825,6971.95,
  6972.075,6972.2,6972.325,6972.45,6972.575,6972.7,6972.825,6972.95,6973.075,6973.2,6973.325,6973.45,6973.575,6973.7,
  6973.825,6973.95,6974.075,6974.2,6974.325,6974.45,6974.575,6974.7,6974.825,6974.95,6975.075,6975.2,6975.325,6975.45];
const expandedTickLabels = [6970.7,6971.2,6971.7,6972.2,6972.7,6973.2,6973.7,6974.2,6974.7,6975.2];
const expandedGridValues = [6970.7,6970.95,6971.2,6971.45,6971.7,6971.95,6972.2,6972.45,6972.7,6972.95,6973.2,6973.45,
  6973.7,6973.95,6974.2,6974.45,6974.7,6974.95,6975.2,6975.45];
const overviewSpecTicks = [55,65,75,85,95,105];
const overviewResTicks = [-4,-2,0,2,4];
const overviewResLabels = [-4,0,4];
const spec296Ticks = [25,35,45,55,65,75,85,95];
const spec1305Ticks = [60,70,80,90,100];
const expandedResTicks = [-2,-1,0,1,2];
const expandedResLabels = [-2,0,2];

// ---------- styling ----------
const RED = '#ff0000', BLACK = '#000000', GREEN = '#0f9e0f', TEXT = '#111111';
const FONT = "'Liberation Sans', Arial, Helvetica, sans-serif";
const OVERVIEW_X = [6798.8, 7187.6];
const EXPANDED_X = [6970.466, 6975.5];
const LINE_HALF_WIDTH = 0.12;  // half width of a drawn overview line, cm-1

// build a spike trace for the overview from line lists
function spikeTrace(lines, col, base) {
  const sorted = lines.slice().sort((a, b) => a[0] - b[0]);
  const out = [[overviewRange[0], base]];
  sorted.forEach(l => {
    out.push([l[0] - LINE_HALF_WIDTH, base], [l[0], l[col]], [l[0] + LINE_HALF_WIDTH, base]);
  });
  out.push([overviewRange[1], base]);
  return out;
}
// vertical strokes from a reference level to each sample (noise comb)
function combTrace(samples, base) {
  const out = [];
  samples.slice().sort((a, b) => a[0] - b[0]).forEach(s => {
    out.push([s[0], base], [s[0], s[1]], [s[0], base]);
  });
  return out;
}
const overviewFitTrace = spikeTrace(overviewLines.concat(overviewWeakLines), 1, overviewFitBaseline);
const overviewMeasTrace = spikeTrace(overviewLines, 2, overviewMeasBaseline);
const overviewMeasTailTrace = combTrace(overviewMeasTail, overviewMeasBaseline);
const overviewSpikeTrace = combTrace(overviewResidualSpikes, 0);

function yAxisDef(grid, min, max, ticks, labels, fontSize) {
  return {
    type: 'value', gridIndex: grid, min: min, max: max, offset: -8,
    axisLine: {show: true, onZero: false, lineStyle: {color: BLACK, width: 2}},
    axisTick: {show: true, customValues: ticks, length: 7, lineStyle: {color: BLACK, width: 1.5}},
    axisLabel: {show: true, customValues: labels, fontSize: fontSize, fontFamily: FONT, color: TEXT,
      margin: 13, showMinLabel: true, showMaxLabel: true},
    splitLine: {show: false}
  };
}
function xAxisDef(grid, range, ticks, labels, fmt, margin) {
  return {
    type: 'value', gridIndex: grid, min: range[0], max: range[1],
    axisLine: {show: true, onZero: false, lineStyle: {color: BLACK, width: 2}},
    axisTick: {show: true, customValues: ticks, length: 6, lineStyle: {color: BLACK, width: 1.5}},
    axisLabel: labels ? {show: true, customValues: labels, fontSize: 23, fontFamily: FONT, color: TEXT,
      margin: margin, formatter: fmt, showMinLabel: true, showMaxLabel: true} : {show: false},
    splitLine: {show: false}
  };
}
function hiddenX(grid, range) { return {type: 'value', gridIndex: grid, min: range[0], max: range[1], show: false}; }
function hiddenY(grid) { return {type: 'value', gridIndex: grid, min: 0, max: 1, show: false}; }

function lineSeries(name, xi, yi, data, color, width, extra) {
  return Object.assign({
    name: name, type: 'line', xAxisIndex: xi, yAxisIndex: yi, data: data,
    symbol: 'none', showSymbol: false, silent: true,
    lineStyle: {color: color, width: width}, itemStyle: {color: color}
  }, extra || {});
}
function gridLineSeries(xi, values, top) {
  return {
    type: 'custom', xAxisIndex: xi, yAxisIndex: xi, silent: true, z: -2,
    data: values.map(v => [v, 0]), encode: {x: 0, y: 1},
    renderItem: function (params, api) {
      const p0 = api.coord([api.value(0), 0]);
      const p1 = api.coord([api.value(0), top]);
      return {type: 'line', shape: {x1: p0[0], y1: p0[1], x2: p1[0], y2: p1[1]},
        style: {stroke: '#bdbdbd', lineWidth: 1, lineDash: [2, 3]}};
    }
  };
}

const fmtExpanded = v => Number(v).toFixed(1);
const fmtOverview = v => String(Math.round(v));

const option = {
  animation: false,
  backgroundColor: '#ffffff',
  legend: {
    top: 5, left: 280, itemWidth: 54, itemHeight: 3, itemGap: 16, icon: 'rect',
    selectedMode: false,
    textStyle: {fontSize: 28.5, color: TEXT, fontFamily: FONT, padding: [0, 0, 0, 7]},
    data: ['Dual-comb measurement', 'Fit', 'Residual']
  },
  grid: [
    {left: 92, width: 1141, top: 61.7, height: 142.3},   // overview spectrum
    {left: 92, width: 1141, top: 213.3, height: 53.4},   // overview residual
    {left: 92, width: 1141, top: 338.3, height: 176},    // 296 K
    {left: 92, width: 1141, top: 514.3, height: 63.4},   // 296 K residual
    {left: 92, width: 1141, top: 577.7, height: 204},    // 1305 K
    {left: 92, width: 1141, top: 781.7, height: 59},     // 1305 K residual
    {left: 92, width: 1141, top: 55, height: 211.7},     // overview frame (grid lines, highlight)
    {left: 92, width: 1141, top: 338.3, height: 502.4}   // expanded frame (grid lines)
  ],
  xAxis: [
    hiddenX(0, OVERVIEW_X),
    xAxisDef(1, OVERVIEW_X, overviewTicks, overviewTickLabels, fmtOverview, 12),
    xAxisDef(2, EXPANDED_X, expandedTicks, null),
    xAxisDef(3, EXPANDED_X, expandedTicks, null),
    xAxisDef(4, EXPANDED_X, expandedTicks, null),
    xAxisDef(5, EXPANDED_X, expandedTicks, expandedTickLabels, fmtExpanded, 16),
    hiddenX(6, OVERVIEW_X),
    hiddenX(7, EXPANDED_X)
  ],
  yAxis: [
    yAxisDef(0, 50, 108, overviewSpecTicks, overviewSpecTicks, 21),
    yAxisDef(1, -4, 4, overviewResTicks, overviewResLabels, 21),
    yAxisDef(2, 20.7, 101.9, spec296Ticks, spec296Ticks, 21),
    yAxisDef(3, -2, 2.53, expandedResTicks, expandedResLabels, 21),
    yAxisDef(4, 56.16, 105.1, spec1305Ticks, spec1305Ticks, 22),
    yAxisDef(5, -2, 3.36, expandedResTicks, expandedResLabels, 21),
    hiddenY(6),
    hiddenY(7)
  ],
  series: [
    gridLineSeries(6, overviewTicks, 0.9683),
    gridLineSeries(7, expandedGridValues, 1),
    {
      // highlighted expanded section and arrow pointing to the lower panels
      type: 'custom', xAxisIndex: 6, yAxisIndex: 6, silent: true, z: -1,
      data: [expandedSection], encode: {x: [0, 1]},
      renderItem: function (params, api) {
        const a = api.coord([api.value(0), 1]);
        const b = api.coord([api.value(1), 0]);
        const cx = (a[0] + b[0]) / 2;
        return {type: 'group', children: [
          {type: 'rect', shape: {x: a[0], y: a[1], width: b[0] - a[0], height: b[1] - a[1]}, style: {fill: '#d9d9d9'}},
          {type: 'line', shape: {x1: cx, y1: b[1], x2: cx, y2: b[1] + 28}, style: {stroke: BLACK, lineWidth: 1.5}},
          {type: 'polygon', shape: {points: [[cx - 6.5, b[1] + 26], [cx + 6.5, b[1] + 26], [cx, b[1] + 40]]}, style: {fill: BLACK}}
        ]};
      }
    },
    // overview
    lineSeries('Dual-comb measurement', 0, 0, overviewMeasTrace, RED, 1.2),
    lineSeries('Dual-comb measurement', 0, 0, overviewMeasTailTrace, RED, 2.2, {clip: false}),
    lineSeries('Fit', 0, 0, overviewFitTrace, BLACK, 2),
    lineSeries('Residual', 1, 1, overviewSpikeTrace, GREEN, 1.5, {z: 3}),
    {
      name: 'Residual', type: 'custom', xAxisIndex: 1, yAxisIndex: 1, silent: true,
      itemStyle: {color: GREEN},
      data: [[overviewResidualEnvelope[0][0], 0]], encode: {x: 0, y: 1},
      renderItem: function (params, api) {
        const pts = [];
        overviewResidualEnvelope.forEach(e => pts.push(api.coord([e[0], e[1]])));
        for (let i = overviewResidualEnvelope.length - 1; i >= 0; i--) {
          const e = overviewResidualEnvelope[i];
          pts.push(api.coord([e[0], e[2]]));
        }
        return {type: 'polygon', shape: {points: pts}, style: {fill: GREEN}};
      }
    },
    // 296 K
    lineSeries('Dual-comb measurement', 2, 2, spec296.map(p => [p[0], p[2]]), RED, 2.6, {smooth: 0.2}),
    lineSeries('Fit', 2, 2, spec296.map(p => [p[0], p[1]]), BLACK, 2.4, {smooth: 0.2}),
    lineSeries('Residual', 3, 3, res296, GREEN, 2),
    // 1305 K
    lineSeries('Dual-comb measurement', 4, 4, spec1305.map(p => [p[0], p[2]]), RED, 2.6, {smooth: 0.2}),
    lineSeries('Fit', 4, 4, spec1305.map(p => [p[0], p[1]]), BLACK, 2.4, {smooth: 0.2}),
    lineSeries('Residual', 5, 5, res1305, GREEN, 2)
  ],
  graphic: [
    {type: 'rect', z: -100, silent: true, shape: {x: 49, y: 310, width: 1184, height: 597}, style: {fill: '#ededed'}},
    // bracket spanning both parts of the figure
    {type: 'line', z: 10, silent: true, shape: {x1: 30, y1: 45, x2: 30, y2: 308}, style: {stroke: BLACK, lineWidth: 1.5}},
    {type: 'line', z: 10, silent: true, shape: {x1: 30, y1: 513, x2: 30, y2: 838}, style: {stroke: BLACK, lineWidth: 1.5}},
    {type: 'line', z: 10, silent: true, shape: {x1: 12, y1: 45, x2: 48, y2: 45}, style: {stroke: BLACK, lineWidth: 1.5}},
    {type: 'line', z: 10, silent: true, shape: {x1: 11, y1: 838, x2: 48, y2: 838}, style: {stroke: BLACK, lineWidth: 1.5}},
    {type: 'text', z: 10, silent: true, x: 30, y: 408, rotation: Math.PI / 2,
      style: {text: 'Transmission', fontSize: 28, fontWeight: 'bold', fontFamily: FONT, fill: BLACK,
        align: 'center', verticalAlign: 'middle', textAlign: 'center', textVerticalAlign: 'middle'}},
    {type: 'text', z: 10, silent: true, x: 107, y: 62,
      style: {text: '17 Torr H{sub|2}O at 1305K:', fontSize: 24, fontFamily: FONT, fill: TEXT,
        align: 'left', verticalAlign: 'middle', textAlign: 'left', textVerticalAlign: 'middle',
        rich: {sub: {fontSize: 16, fontFamily: FONT, fill: TEXT, padding: [10, 0, 0, 0]}}}},
    {type: 'text', z: 10, silent: true, x: 603, y: 321,
      style: {text: 'Expanded section', fontSize: 20, fontFamily: FONT, fill: TEXT,
        align: 'center', verticalAlign: 'middle', textAlign: 'center', textVerticalAlign: 'middle'}},
    {type: 'text', z: 10, silent: true, x: 110, y: 499,
      style: {text: '296K', fontSize: 25, fontWeight: 'bold', fontFamily: FONT, fill: BLACK,
        align: 'left', verticalAlign: 'middle', textAlign: 'left', textVerticalAlign: 'middle'}},
    {type: 'text', z: 10, silent: true, x: 104, y: 767,
      style: {text: '1305K', fontSize: 25, fontWeight: 'bold', fontFamily: FONT, fill: BLACK,
        align: 'left', verticalAlign: 'middle', textAlign: 'left', textVerticalAlign: 'middle'}},
    {type: 'text', z: 10, silent: true, x: 652, y: 895,
      style: {text: 'Wavenumber (cm-1)', fontSize: 23, fontFamily: FONT, fill: TEXT,
        align: 'center', verticalAlign: 'middle', textAlign: 'center', textVerticalAlign: 'middle'}}
  ]
};

const chart = echarts.init(document.getElementById('chart'), null, {renderer: 'canvas'});
chart.setOption(option);
</script>
</body>
</html>
